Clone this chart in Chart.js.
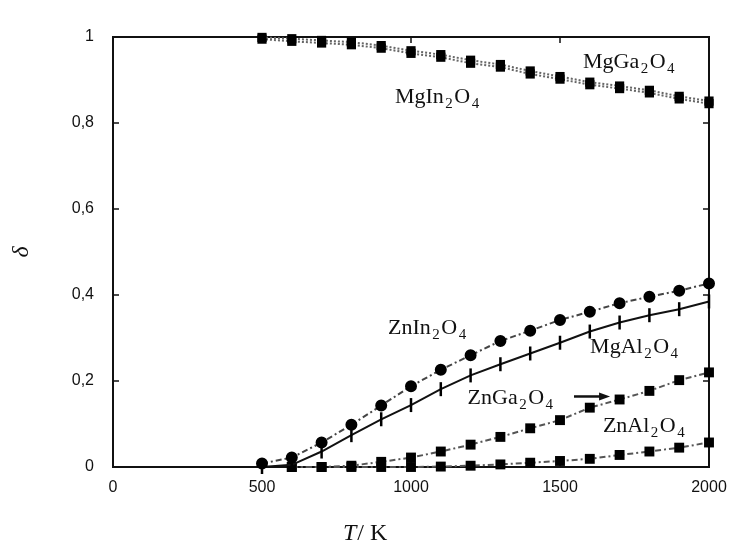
<!DOCTYPE html>
<html lang="en">
  <head>
    <meta charset="UTF-8" />
    <script src="https://cdn.jsdelivr.net/npm/chart.js"></script>
    <title>Inversion degree of spinels vs T</title>
    <style>
      html, body { margin: 0; padding: 0; background: #fff; }
    </style>
  </head>
  <body>
    <canvas id="grafico" width="736" height="544"></canvas>

    <script>
      // temperatures (K) and inversion degree for each spinel
      const temps = [500, 600, 700, 800, 900, 1000, 1100, 1200, 1300, 1400, 1500, 1600, 1700, 1800, 1900, 2000];
      const mgGa2O4 = [0.999, 0.996, 0.992, 0.988, 0.980, 0.968, 0.959, 0.946, 0.936, 0.921, 0.908, 0.895, 0.886, 0.876, 0.862, 0.851];
      const mgIn2O4 = [0.995, 0.990, 0.986, 0.982, 0.974, 0.962, 0.953, 0.939, 0.930, 0.914, 0.902, 0.889, 0.880, 0.870, 0.856, 0.845];
      const znIn2O4 = [0.008, 0.022, 0.057, 0.098, 0.143, 0.188, 0.226, 0.260, 0.293, 0.317, 0.342, 0.361, 0.381, 0.396, 0.410, 0.427];
      const mgAl2O4 = [0, 0.005, 0.036, 0.074, 0.111, 0.144, 0.181, 0.213, 0.239, 0.264, 0.289, 0.315, 0.336, 0.353, 0.367, 0.385];
      const znGa2O4 = [null, 0, 0, 0.003, 0.012, 0.022, 0.036, 0.052, 0.070, 0.090, 0.109, 0.138, 0.157, 0.177, 0.202, 0.220];
      const znAl2O4 = [null, 0, 0, 0, 0, 0, 0.001, 0.003, 0.006, 0.010, 0.014, 0.019, 0.028, 0.036, 0.045, 0.057];

      const xTickLabels = ["0", "500", "1000", "1500", "2000"];
      const yTickLabels = ["0", "0,2", "0,4", "0,6", "0,8", "1"];

      // curve labels, placed in data units (T, delta at baseline)
      const curveLabels = [
        { text: "MgGa_2O_4", t: 1577, d: 0.928 },
        { text: "MgIn_2O_4", t: 946, d: 0.847 },
        { text: "ZnIn_2O_4", t: 923, d: 0.309 },
        { text: "MgAl_2O_4", t: 1601, d: 0.265 },
        { text: "ZnGa_2O_4", t: 1190, d: 0.147 },
        { text: "ZnAl_2O_4", t: 1644, d: 0.081 },
      ];
      const arrow = { from: 1547, to: 1668, d: 0.164 };

      const pts = (vals) => temps.map((t, i) => ({ x: t, y: vals[i] }));

      // draws a formula like MgGa_2O_4 with subscripts
      function drawChem(ctx, text, px, py) {
        let cx = px;
        text.split(/(_\d)/).filter((s) => s).forEach((p) => {
          const sub = p[0] === "_";
          const s = sub ? p.slice(1) : p;
          ctx.font = sub ? '15px "Liberation Serif"' : '22px "Liberation Serif"';
          if (sub) cx += 1.5;
          ctx.fillText(s, cx, sub ? py + 5 : py);
          cx += ctx.measureText(s).width + (sub ? 1.5 : 0);
        });
      }

      const moldura = {
        id: "moldura",
        beforeDatasetsDraw(chart) {
          const { ctx, chartArea: a, scales: { x, y } } = chart;
          ctx.save();
          ctx.strokeStyle = "#111";
          ctx.lineWidth = 2;
          ctx.strokeRect(a.left, a.top, a.right - a.left, a.bottom - a.top);
          ctx.lineWidth = 1.5;
          ctx.beginPath();
          y.ticks.forEach((tk) => {
            const py = y.getPixelForValue(tk.value);
            ctx.moveTo(a.left, py); ctx.lineTo(a.left + 6, py);
            ctx.moveTo(a.right - 6, py); ctx.lineTo(a.right, py);
          });
          x.ticks.forEach((tk) => {
            const px = x.getPixelForValue(tk.value);
            ctx.moveTo(px, a.bottom); ctx.lineTo(px, a.bottom - 6);
            ctx.moveTo(px, a.top); ctx.lineTo(px, a.top + 6);
          });
          ctx.stroke();
          ctx.restore();
        },
        afterDraw(chart) {
          const { ctx, scales: { x, y } } = chart;
          ctx.save();
          ctx.fillStyle = "#111";
          ctx.textBaseline = "alphabetic";
          curveLabels.forEach((l) => drawChem(ctx, l.text, x.getPixelForValue(l.t), y.getPixelForValue(l.d)));

          // arrow pointing at ZnGa2O4
          const x1 = x.getPixelForValue(arrow.from), x2 = x.getPixelForValue(arrow.to);
          const ay = y.getPixelForValue(arrow.d);
          ctx.strokeStyle = "#111";
          ctx.lineWidth = 2.5;
          ctx.beginPath();
          ctx.moveTo(x1, ay); ctx.lineTo(x2 - 8, ay);
          ctx.stroke();
          ctx.beginPath();
          ctx.moveTo(x2, ay); ctx.lineTo(x2 - 11, ay - 4); ctx.lineTo(x2 - 11, ay + 4);
          ctx.closePath();
          ctx.fill();

          // x axis title: T / K
          ctx.font = 'italic 24px "Liberation Serif"';
          ctx.fillText("T", 343, 540);
          const w = ctx.measureText("T").width;
          ctx.font = '24px "Liberation Serif"';
          ctx.fillText("/ K", 343 + w + 1, 540);
          ctx.restore();
        },
      };

      const quadrado = (vals, cor, r) => ({
        data: pts(vals),
        showLine: true,
        borderColor: cor,
        borderWidth: 2,
        borderDash: [6, 3, 2, 3],
        pointStyle: "rect",
        pointRadius: r,
        pointBackgroundColor: "#000",
        pointBorderColor: "#000",
        pointBorderWidth: 0,
        clip: false,
      });

      const ctx = document.getElementById("grafico");
      new Chart(ctx, {
        type: "scatter",
        data: {
          datasets: [
            Object.assign(quadrado(mgGa2O4, "#666", 6.5), { label: "MgGa2O4", borderDash: [2, 2] }),
            Object.assign(quadrado(mgIn2O4, "#666", 6.5), { label: "MgIn2O4", borderDash: [2, 2] }),
            {
              label: "ZnIn2O4",
              data: pts(znIn2O4),
              showLine: true,
              borderColor: "#444",
              borderWidth: 2,
              borderDash: [6, 3, 2, 3],
              pointStyle: "circle",
              pointRadius: 5,
              pointBackgroundColor: "#000",
              pointBorderColor: "#000",
              clip: false,
            },
            {
              label: "MgAl2O4",
              data: pts(mgAl2O4),
              showLine: true,
              borderColor: "#111",
              borderWidth: 2,
              pointStyle: "line",
              rotation: 90,
              pointRadius: 7,
              pointBorderColor: "#000",
              pointBorderWidth: 2.5,
              clip: false,
            },
            Object.assign(quadrado(znGa2O4, "#555", 7), { label: "ZnGa2O4" }),
            Object.assign(quadrado(znAl2O4, "#555", 7), { label: "ZnAl2O4" }),
          ],
        },
        options: {
          responsive: false,
          animation: false,
          layout: { padding: { top: 37, right: 27, left: 0, bottom: 0 } },
          plugins: { legend: { display: false }, tooltip: { enabled: false } },
          scales: {
            x: {
              type: "linear",
              min: 0,
              max: 2000,
              ticks: {
                stepSize: 500,
                maxRotation: 0,
                padding: 3,
                color: "#111",
                font: { family: '"Liberation Sans"', size: 16 },
                callback: (v, i) => xTickLabels[i],
              },
              grid: { display: false },
              border: { display: false },
              afterFit: (s) => { s.height = 77; },
            },
            y: {
              min: 0,
              max: 1,
              ticks: {
                stepSize: 0.2,
                padding: 11,
                color: "#111",
                font: { family: '"Liberation Sans"', size: 16 },
                callback: (v, i) => yTickLabels[i],
              },
              title: {
                display: true,
                text: "δ",
                color: "#111",
                font: { family: '"Liberation Serif"', style: "italic", size: 24 },
                padding: { top: 7 },
              },
              grid: { display: false },
              border: { display: false },
              afterFit: (s) => { s.width = 113; },
            },
          },
        },
        plugins: [moldura],
      });
    </script>
  </body>
</html>
